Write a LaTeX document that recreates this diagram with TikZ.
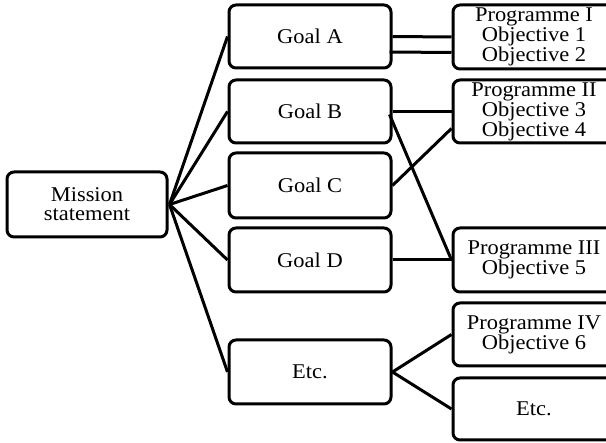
\documentclass[tikz,border=0pt]{standalone}
\usepackage{fontspec}
\setmainfont{Liberation Serif}[FakeStretch=1.07]
\begin{document}
\begin{tikzpicture}[x=1pt,y=-1pt,
  box/.style={draw=black, line width=3pt, rounded corners=7pt, align=center,
    inner sep=0pt, font=\fontsize{21}{19}\selectfont},
  goalbox/.style={box, minimum width=162pt},
  progbox/.style={box, minimum width=162pt},
  link/.style={draw=black, line width=3pt}]
\useasboundingbox (0,0) rectangle (606,443);
\clip (0,0) rectangle (606,443);
\node[box, minimum width=160pt, minimum height=65pt] (ms) at (87,204.5) {Mission\\statement};
\node[goalbox, minimum height=63pt] (ga) at (310,36.5) {Goal A};
\node[goalbox, minimum height=63pt] (gb) at (310,111.5) {Goal B};
\node[goalbox, minimum height=65pt] (gc) at (310,185.5) {Goal C};
\node[goalbox, minimum height=64pt] (gd) at (310,260) {Goal D};
\node[goalbox, minimum height=64pt] (ge) at (310,372) {Etc.};
\node[progbox, minimum height=64pt] (p1) at (534,37) {Programme I\\Objective 1\\Objective 2};
\node[progbox, minimum height=63pt] (p2) at (534,111.5) {Programme II\\Objective 3\\Objective 4};
\node[progbox, minimum height=64pt] (p3) at (534,260) {Programme III\\Objective 5};
\node[progbox, minimum height=63pt] (p4) at (534,334.5) {Programme IV\\Objective 6};
\node[progbox, minimum height=62pt] (e2) at (534,409) {Etc.};
\coordinate (hub) at ([xshift=1pt]ms.east);
\foreach \g in {ga,gb,gc,gd,ge} \draw[link] (hub) -- (\g.west);
\draw[link] (ga.east) -- (p1.west);
\draw[link] ([xshift=-3pt,yshift=-15.5pt]ga.east) -- ([yshift=-15.5pt]p1.west);
\draw[link] (gb.east) -- (p2.west);
\draw[link] (gc.east) -- ([yshift=16pt]p2.south west);
\draw[link] ([xshift=-3pt,yshift=-3pt]gb.east) -- (p3.west);
\draw[link] (gd.east) -- (p3.west);
\draw[link] (ge.east) -- (p4.west);
\draw[link] (ge.east) -- (e2.west);
\end{tikzpicture}
\end{document}
